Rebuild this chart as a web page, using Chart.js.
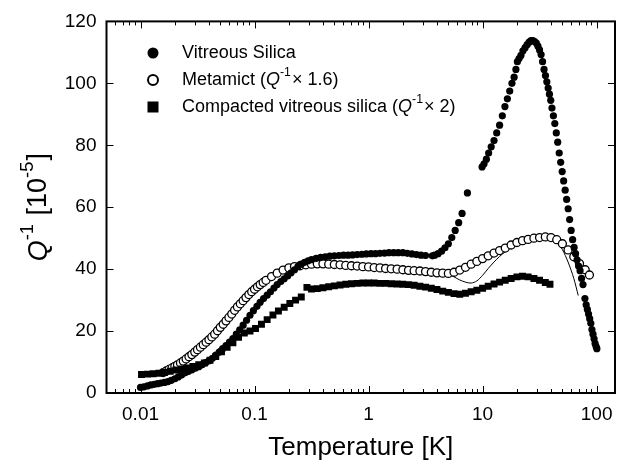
<!DOCTYPE html>
<html lang="en">
<head>
    <meta charset="UTF-8">
    <title>Q-1 vs Temperature</title>
    <script src="https://cdn.jsdelivr.net/npm/chart.js"></script>
    <style>
        html, body { margin: 0; padding: 0; background: #fff; }
        #wrap { width: 627px; height: 468px; }
    </style>
</head>
<body>
    <div id="wrap"><canvas id="qChart"></canvas></div>

    <script>
        // tick labels
        const xTickValues = [0.01, 0.1, 1, 10, 100];
        const xTickLabels = ["0.01", "0.1", "1", "10", "100"];
        const yTickValues = [0, 20, 40, 60, 80, 100, 120];

        // Vitreous Silica (filled circles)
        const vitreousT = [0.0100, 0.0107, 0.0115, 0.0123, 0.0132, 0.0141, 0.0151, 0.0162, 0.0174, 0.0186,
            0.0200, 0.0214, 0.0229, 0.0246, 0.0263, 0.0282, 0.0302, 0.0324, 0.0347, 0.0372,
            0.0398, 0.0427, 0.0457, 0.0490, 0.0525, 0.0562, 0.0603, 0.0646, 0.0692, 0.0741,
            0.0794, 0.0851, 0.0912, 0.0977, 0.105, 0.112, 0.120, 0.129, 0.138, 0.148,
            0.158, 0.170, 0.182, 0.195, 0.209, 0.224, 0.240, 0.257, 0.275, 0.295,
            0.316, 0.347, 0.380, 0.417, 0.457, 0.501, 0.550, 0.603, 0.661, 0.724,
            0.794, 0.871, 0.955, 1.05, 1.15, 1.26, 1.38, 1.51, 1.66, 1.82,
            2.00, 2.19, 2.40, 2.63, 2.88, 3.16, 3.63, 3.80, 4.07, 4.37,
            4.68, 5.01, 5.37, 5.75, 6.17, 6.61, 7.36,
            9.9, 10.3, 10.8, 11.3, 11.9, 12.6, 13.3, 14.1,
            14.9, 15.7, 16.5, 17.3, 18.1, 18.9, 19.6, 20.2, 20.9, 21.7,
            22.6, 23.6, 24.6, 25.6, 26.6, 27.6, 28.6, 29.6, 30.6, 31.6,
            32.6, 33.6, 34.6, 35.6, 36.6, 37.6, 38.6, 39.6, 40.6, 41.8,
            43.0, 44.3, 45.6, 47.0, 48.4, 49.9, 51.4, 53.0, 54.6, 56.3,
            58.0, 59.8, 61.6, 63.5, 65.4, 67.4, 69.5, 71.6, 73.8, 76.0,
            79.0, 81.0, 83.0, 85.0, 87.0, 89.0, 91.0, 93.0, 95.0, 97.0,
            99.0, 100.5];
        const vitreousQ = [1.8, 2.0, 2.3, 2.6, 2.8, 3.0, 3.2, 3.4, 3.7, 4.1,
            4.6, 5.2, 5.8, 6.5, 7.0, 7.5, 8.0, 8.5, 9.1, 9.8,
            10.4, 11.2, 12.2, 13.2, 14.3, 15.3, 16.4, 17.6, 19.0, 20.4,
            21.9, 23.5, 25.1, 26.6, 28.0, 29.3, 30.5, 31.6, 32.7, 33.9,
            35.0, 36.0, 36.9, 37.8, 38.8, 39.8, 40.8, 41.6, 42.2, 42.7,
            43.1, 43.5, 43.8, 44.0, 44.2, 44.3, 44.4, 44.5, 44.5, 44.6,
            44.7, 44.8, 44.9, 45.0, 45.0, 45.1, 45.2, 45.3, 45.3, 45.3,
            45.3, 45.1, 44.9, 44.7, 44.5, 44.4, 44.3, 44.5, 45.0, 45.8,
            46.9, 48.2, 50.2, 52.5, 55.0, 58.0, 64.6,
            73.0, 74.0, 75.5, 77.5, 79.5, 81.5, 84.0, 86.5,
            89.5, 92.5, 95.0, 97.5, 100.0, 102.0, 104.5, 107.0, 108.0, 109.0,
            110.5, 111.5, 112.5, 113.3, 113.8, 113.8, 113.5, 113.0, 112.0, 110.8,
            109.3, 107.0, 104.5, 102.5, 100.5, 98.5, 96.5, 94.5, 92.0, 89.5,
            87.0, 84.0, 81.0, 77.5, 74.5, 71.5, 68.5, 65.5, 62.5, 59.5,
            56.0, 52.5, 49.5, 47.0, 45.0, 43.0, 41.0, 39.5, 37.0, 35.0,
            30.5, 28.5, 27.0, 25.5, 24.0, 22.5, 20.5, 19.0, 17.5, 16.0,
            15.0, 14.3];

        // Metamict (open circles, Q-1 x 1.6)
        const metamictT = [0.0158, 0.0168, 0.0178, 0.0189, 0.0200, 0.0211, 0.0224, 0.0237, 0.0251, 0.0266,
            0.0282, 0.0299, 0.0316, 0.0335, 0.0355, 0.0376, 0.0398, 0.0422, 0.0447, 0.0473,
            0.0501, 0.0531, 0.0562, 0.0596, 0.0631, 0.0668, 0.0708, 0.0750, 0.0794, 0.0841,
            0.0891, 0.0944, 0.100, 0.106, 0.112, 0.119, 0.126, 0.141,
            0.158, 0.178, 0.200, 0.224, 0.251, 0.282, 0.316, 0.355, 0.398, 0.447,
            0.501, 0.562, 0.631, 0.708, 0.794, 0.891, 1.00, 1.12, 1.26, 1.41,
            1.58, 1.78, 2.00, 2.24, 2.51, 2.82, 3.16, 3.55, 3.98, 4.47,
            5.01, 5.62, 6.31, 7.08, 7.94, 8.91, 10.0, 11.2, 12.6, 14.1,
            15.8, 17.8, 20.0, 22.4, 25.1, 28.2, 31.6, 35.5, 39.8, 44.7,
            50.1, 56.2, 63.1, 70.8, 79.4, 86.5];
        const metamictQ = [6.6, 7.1, 7.6, 8.1, 8.6, 9.1, 9.7, 10.3, 11.0, 11.7,
            12.4, 13.2, 14.0, 14.8, 15.6, 16.4, 17.2, 18.1, 19.0, 20.1,
            21.2, 22.2, 23.3, 24.4, 25.5, 26.7, 27.8, 28.8, 29.8, 30.8,
            31.8, 32.7, 33.5, 34.3, 35.0, 35.7, 36.4, 37.6,
            38.7, 39.7, 40.4, 40.8, 41.1, 41.4, 41.6, 41.7, 41.7, 41.6,
            41.5, 41.4, 41.2, 41.1, 41.0, 40.8, 40.7, 40.5, 40.4, 40.2,
            40.1, 40.0, 39.8, 39.6, 39.5, 39.4, 39.2, 39.0, 38.8, 38.7,
            38.6, 39.0, 39.7, 40.6, 41.6, 42.5, 43.4, 44.3, 45.2, 46.0,
            46.8, 47.8, 48.6, 49.2, 49.6, 50.0, 50.2, 50.4, 50.2, 49.5,
            48.2, 46.2, 44.0, 41.8, 39.8, 38.1];

        // thin solid line through the metamict data
        const fitT = [0.0158, 0.0224, 0.0316, 0.0447, 0.0631, 0.0891, 0.126, 0.178, 0.251, 0.355,
            0.501, 0.708, 1.00, 1.41, 2.00, 2.82, 3.98, 5.01, 5.62, 6.31,
            7.08, 7.94, 8.91, 10.0, 11.2, 12.6, 14.1, 15.8, 17.8, 20.0,
            22.4, 25.1, 28.2, 31.6, 35.5, 39.8, 44.7, 50.1, 56.2, 63.1, 69.0];
        const fitQ = [6.6, 9.7, 14.0, 19.0, 25.5, 31.8, 36.4, 39.7, 41.1, 41.7,
            41.5, 41.1, 40.7, 40.2, 39.8, 39.4, 38.8, 38.3, 37.5, 36.5,
            35.8, 35.5, 36.2, 38.0, 40.2, 42.3, 44.1, 45.6, 47.0, 48.2,
            49.2, 49.9, 50.3, 50.5, 50.5, 50.0, 48.8, 46.3, 42.3, 37.0, 31.5];

        // Compacted vitreous silica (filled squares, Q-1 x 2)
        const compactedT = [0.0102, 0.0115, 0.0129, 0.0145, 0.0162, 0.0182, 0.0204, 0.0229, 0.0257, 0.0288,
            0.0324, 0.0363, 0.0407, 0.0457, 0.0513, 0.0575, 0.0646, 0.0724, 0.0813, 0.0912,
            0.102, 0.115, 0.129, 0.145, 0.162, 0.182, 0.204, 0.229, 0.257, 0.288,
            0.316, 0.355, 0.398, 0.447, 0.501, 0.562, 0.631, 0.708, 0.794, 0.891,
            1.00, 1.12, 1.26, 1.41, 1.58, 1.78, 2.00, 2.24, 2.51, 2.82,
            3.16, 3.55, 3.98, 4.47, 5.01, 5.62, 6.31, 7.08, 7.94, 8.91,
            10.0, 11.2, 12.6, 14.1, 15.8, 17.8, 20.0, 22.4, 25.1, 28.2,
            31.6, 35.5, 39.0];
        const compactedQ = [6.0, 6.1, 6.2, 6.4, 6.6, 7.0, 7.4, 7.8, 8.1, 8.6,
            9.1, 9.7, 10.6, 11.8, 13.3, 14.8, 16.2, 18.0, 19.4, 20.0,
            20.8, 22.2, 23.7, 25.2, 26.5, 27.7, 28.9, 30.0, 31.0, 34.1,
            33.6, 33.7, 34.0, 34.3, 34.6, 34.9, 35.1, 35.3, 35.4, 35.5,
            35.5, 35.5, 35.4, 35.4, 35.3, 35.2, 35.1, 35.0, 34.8, 34.5,
            34.2, 33.8, 33.4, 32.9, 32.5, 32.1, 31.9, 32.2, 32.7, 33.2,
            33.8, 34.5, 35.2, 35.8, 36.4, 37.0, 37.5, 37.7, 37.5, 37.0,
            36.4, 35.7, 35.1];

        const pts = (xs, ys) => xs.map((v, i) => ({ x: v, y: ys[i] }));
        const FONT = "'Liberation Sans', Arial, Helvetica, sans-serif";

        // draws text pieces (normal / italic / superscript) left to right from x
        function drawPieces(ctx, pieces, x, y, size) {
            let cx = x;
            pieces.forEach(p => {
                const s = p.sup ? size * 0.68 : size;
                ctx.font = (p.it ? "italic " : "") + s + "px " + FONT;
                ctx.fillText(p.t, cx, p.sup ? y - size * 0.4 : y);
                cx += ctx.measureText(p.t).width + (p.sup ? 1 : 0);
            });
            return cx - x;
        }
        function piecesWidth(ctx, pieces, size) {
            let w = 0;
            pieces.forEach(p => {
                const s = p.sup ? size * 0.68 : size;
                ctx.font = (p.it ? "italic " : "") + s + "px " + FONT;
                w += ctx.measureText(p.t).width + (p.sup ? 1 : 0);
            });
            return w;
        }

        const decorations = {
            id: "decorations",
            afterDraw(chart) {
                const { ctx, chartArea: a, scales: { x, y } } = chart;
                ctx.save();
                ctx.strokeStyle = "#000";
                ctx.fillStyle = "#000";
                ctx.lineWidth = 1;

                // inward ticks on all four sides
                ctx.beginPath();
                for (let e = -3; e <= 2; e++) {
                    for (let m = 1; m <= 9; m++) {
                        const v = m * Math.pow(10, e);
                        if (v < x.min || v > x.max) continue;
                        const px = Math.round(x.getPixelForValue(v)) + 0.5;
                        const len = m === 1 ? 7 : 4;
                        ctx.moveTo(px, a.bottom); ctx.lineTo(px, a.bottom - len);
                        ctx.moveTo(px, a.top); ctx.lineTo(px, a.top + len);
                    }
                }
                yTickValues.forEach(v => {
                    const py = Math.round(y.getPixelForValue(v)) + 0.5;
                    ctx.moveTo(a.left, py); ctx.lineTo(a.left + 7, py);
                    ctx.moveTo(a.right, py); ctx.lineTo(a.right - 7, py);
                });
                ctx.stroke();

                // frame
                ctx.lineWidth = 2;
                ctx.strokeRect(a.left, a.top, a.right - a.left, a.bottom - a.top);

                // x title
                ctx.textBaseline = "middle";
                ctx.textAlign = "center";
                ctx.font = "26px " + FONT;
                ctx.fillText("Temperature [K]", (a.left + a.right) / 2, 448);

                // y title (rotated)
                ctx.textAlign = "left";
                const yTitle = [{ t: "Q", it: true }, { t: "-1", sup: true }, { t: " [10" }, { t: "-5", sup: true }, { t: "]" }];
                ctx.save();
                ctx.translate(39, (a.top + a.bottom) / 2);
                ctx.rotate(-Math.PI / 2);
                const w = piecesWidth(ctx, yTitle, 27);
                drawPieces(ctx, yTitle, -w / 2, 0, 27);
                ctx.restore();

                // legend
                const lx = 153, tx = 182, rows = [53, 80, 107], ls = 18;
                ctx.beginPath(); ctx.arc(lx, rows[0], 5.5, 0, Math.PI * 2); ctx.fill();
                ctx.beginPath(); ctx.lineWidth = 2; ctx.arc(lx, rows[1], 5, 0, Math.PI * 2); ctx.stroke();
                ctx.fillRect(lx - 5.5, rows[2] - 5.5, 11, 11);
                drawPieces(ctx, [{ t: "Vitreous Silica" }], tx, rows[0], ls);
                drawPieces(ctx, [{ t: "Metamict (" }, { t: "Q", it: true }, { t: "-1", sup: true }, { t: "\u00d7 1.6)" }], tx, rows[1], ls);
                drawPieces(ctx, [{ t: "Compacted vitreous silica (" }, { t: "Q", it: true }, { t: "-1", sup: true }, { t: "\u00d7 2)" }], tx, rows[2], ls);
                ctx.restore();
            }
        };

        new Chart(document.getElementById("qChart"), {
            type: "scatter",
            data: {
                datasets: [
                    { label: "Vitreous Silica", data: pts(vitreousT, vitreousQ), pointStyle: "circle",
                      pointRadius: 3.6, backgroundColor: "#000", borderColor: "#000", borderWidth: 0 },
                    { label: "Compacted vitreous silica", data: pts(compactedT, compactedQ), pointStyle: "rect",
                      pointRadius: 4.9, backgroundColor: "#000", borderColor: "#000", borderWidth: 0 },
                    { label: "Metamict", data: pts(metamictT, metamictQ), pointStyle: "circle",
                      pointRadius: 4, backgroundColor: "#fff", borderColor: "#000", borderWidth: 1.3 },
                    { label: "fit", data: pts(fitT, fitQ), showLine: true, pointRadius: 0,
                      borderColor: "#000", borderWidth: 1, tension: 0.3 }
                ]
            },
            options: {
                responsive: true,
                maintainAspectRatio: false,
                animation: false,
                layout: { padding: { top: 13, right: 12, left: 0, bottom: 0 } },
                plugins: { legend: { display: false }, tooltip: { enabled: false } },
                scales: {
                    x: {
                        type: "logarithmic",
                        min: 0.00503,
                        max: 145,
                        grid: { display: false, drawTicks: false },
                        border: { display: false },
                        afterBuildTicks: s => { s.ticks = xTickValues.map(v => ({ value: v })); },
                        afterFit: s => { s.height = 75; },
                        ticks: {
                            autoSkip: false, maxRotation: 0, padding: 10, color: "#000",
                            font: { size: 19, family: FONT },
                            callback: v => xTickLabels[xTickValues.indexOf(v)]
                        }
                    },
                    y: {
                        min: 0,
                        max: 120,
                        grid: { display: false, drawTicks: false },
                        border: { display: false },
                        afterBuildTicks: s => { s.ticks = yTickValues.map(v => ({ value: v })); },
                        afterFit: s => { s.width = 106.5; },
                        ticks: { padding: 10, color: "#000", font: { size: 19, family: FONT } }
                    }
                }
            },
            plugins: [decorations]
        });
    </script>
</body>
</html>
